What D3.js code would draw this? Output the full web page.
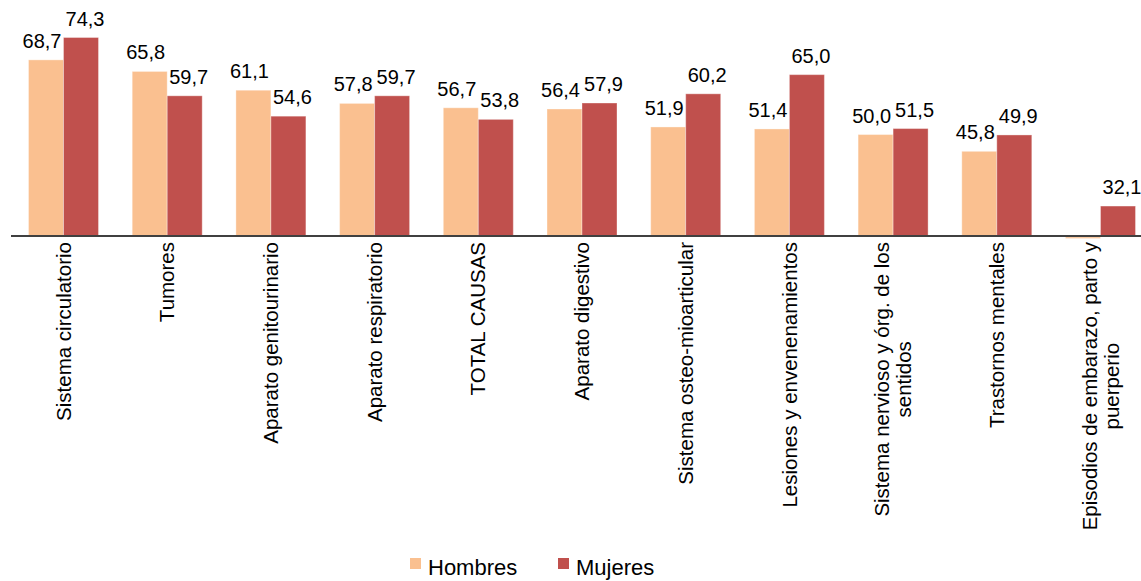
<!DOCTYPE html>
<html>
<head>
<meta charset="utf-8">
<script src="https://cdn.jsdelivr.net/npm/d3@7"></script>
<style>
  html, body { margin: 0; padding: 0; background: #fff; }
  svg { display: block; font-family: "Liberation Sans", Arial, sans-serif; }
</style>
</head>
<body>
<svg id="chart" width="1141" height="581"></svg>
<script>
// ---- data ----
const categories = [
  "Sistema circulatorio",
  "Tumores",
  "Aparato genitourinario",
  "Aparato respiratorio",
  "TOTAL CAUSAS",
  "Aparato digestivo",
  "Sistema osteo-mioarticular",
  "Lesiones y envenenamientos",
  "Sistema nervioso y órg. de los\nsentidos",
  "Trastornos mentales",
  "Episodios de embarazo, parto y\npuerperio"
];
const hombres = [68.7, 65.8, 61.1, 57.8, 56.7, 56.4, 51.9, 51.4, 50.0, 45.8, 0];
const mujeres = [74.3, 59.7, 54.6, 59.7, 53.8, 57.9, 60.2, 65.0, 51.5, 49.9, 32.1];
const seriesNames = ["Hombres", "Mujeres"];
const seriesColors = ["#FAC090", "#C0504D"];
const yDomain = [24.6, 74.3];

// ---- layout ----
const svg = d3.select("#chart");
const baseY = 236;
const x0 = d3.scaleBand().domain(categories).range([11.65, 1152.35])
  .paddingInner(0.325).paddingOuter(0.1625);
const x1 = d3.scaleBand().domain(seriesNames).range([0, x0.bandwidth()]);
const y = d3.scaleLinear().domain(yDomain).range([baseY, 37.5]).clamp(true);
const fmt = d3.formatLocale({decimal: ",", thousands: ".", grouping: [3], currency: ["", "€"]}).format(".1f");
const labelShift = [-4, 4];

const rows = categories.map((c, i) => ({cat: c, vals: [hombres[i], mujeres[i]]}));

const groups = svg.append("g").selectAll("g").data(rows).join("g")
  .attr("transform", d => `translate(${x0(d.cat)},0)`);

groups.selectAll("rect").data(d => d.vals.map((v, j) => ({v, s: seriesNames[j], j})))
  .join("rect")
  .attr("x", d => x1(d.s))
  .attr("width", x1.bandwidth())
  .attr("y", d => (baseY - y(d.v)) < 1 ? baseY + 1 : y(d.v))
  .attr("height", d => Math.max(1.5, baseY - y(d.v)))
  .attr("fill", d => seriesColors[d.j])
  .attr("stroke", "rgba(255,255,255,0.35)")
  .attr("stroke-width", 1);

// value labels
groups.selectAll("text.val").data(d => d.vals.map((v, j) => ({v, s: seriesNames[j], j})).filter(d => d.v > 0))
  .join("text")
  .attr("class", "val")
  .attr("x", d => x1(d.s) + x1.bandwidth() / 2 + labelShift[d.j])
  .attr("y", d => y(d.v) - 12)
  .attr("text-anchor", "middle")
  .attr("font-size", 20)
  .attr("fill", "#000")
  .text(d => fmt(d.v));

// axis line
const xAxis = d3.axisBottom(x0).tickSize(0).tickFormat("");
const axisG = svg.append("g").attr("transform", `translate(0,${baseY})`).call(xAxis);
axisG.select(".domain").attr("stroke", "#404040").attr("stroke-width", 2)
  .attr("d", `M11,0H1141`);

// category labels (rotated, multi-line centered)
const labelTop = 242;
const lineH = 22;
categories.forEach(c => {
  const lines = c.split("\n");
  const g = svg.append("g")
    .attr("transform", `translate(${x0(c) + x0.bandwidth() / 2},${labelTop}) rotate(-90)`);
  const texts = lines.map((ln, k) => g.append("text")
    .attr("font-size", 20.5)
    .attr("fill", "#000")
    .attr("dy", "0.35em")
    .text(ln));
  const maxLen = d3.max(texts, t => t.node().getComputedTextLength());
  texts.forEach((t, k) => {
    t.attr("text-anchor", "middle")
      .attr("x", -maxLen / 2)
      .attr("y", (k - (lines.length - 1) / 2) * lineH);
  });
});

// legend
const legendItems = [
  {name: seriesNames[0], color: seriesColors[0], x: 410},
  {name: seriesNames[1], color: seriesColors[1], x: 558}
];
const lg = svg.append("g");
legendItems.forEach(it => {
  lg.append("rect").attr("x", it.x).attr("y", 558).attr("width", 11).attr("height", 11).attr("fill", it.color);
  lg.append("text").attr("x", it.x + 18).attr("y", 575).attr("font-size", 22).attr("fill", "#000").text(it.name);
});
</script>
</body>
</html>
